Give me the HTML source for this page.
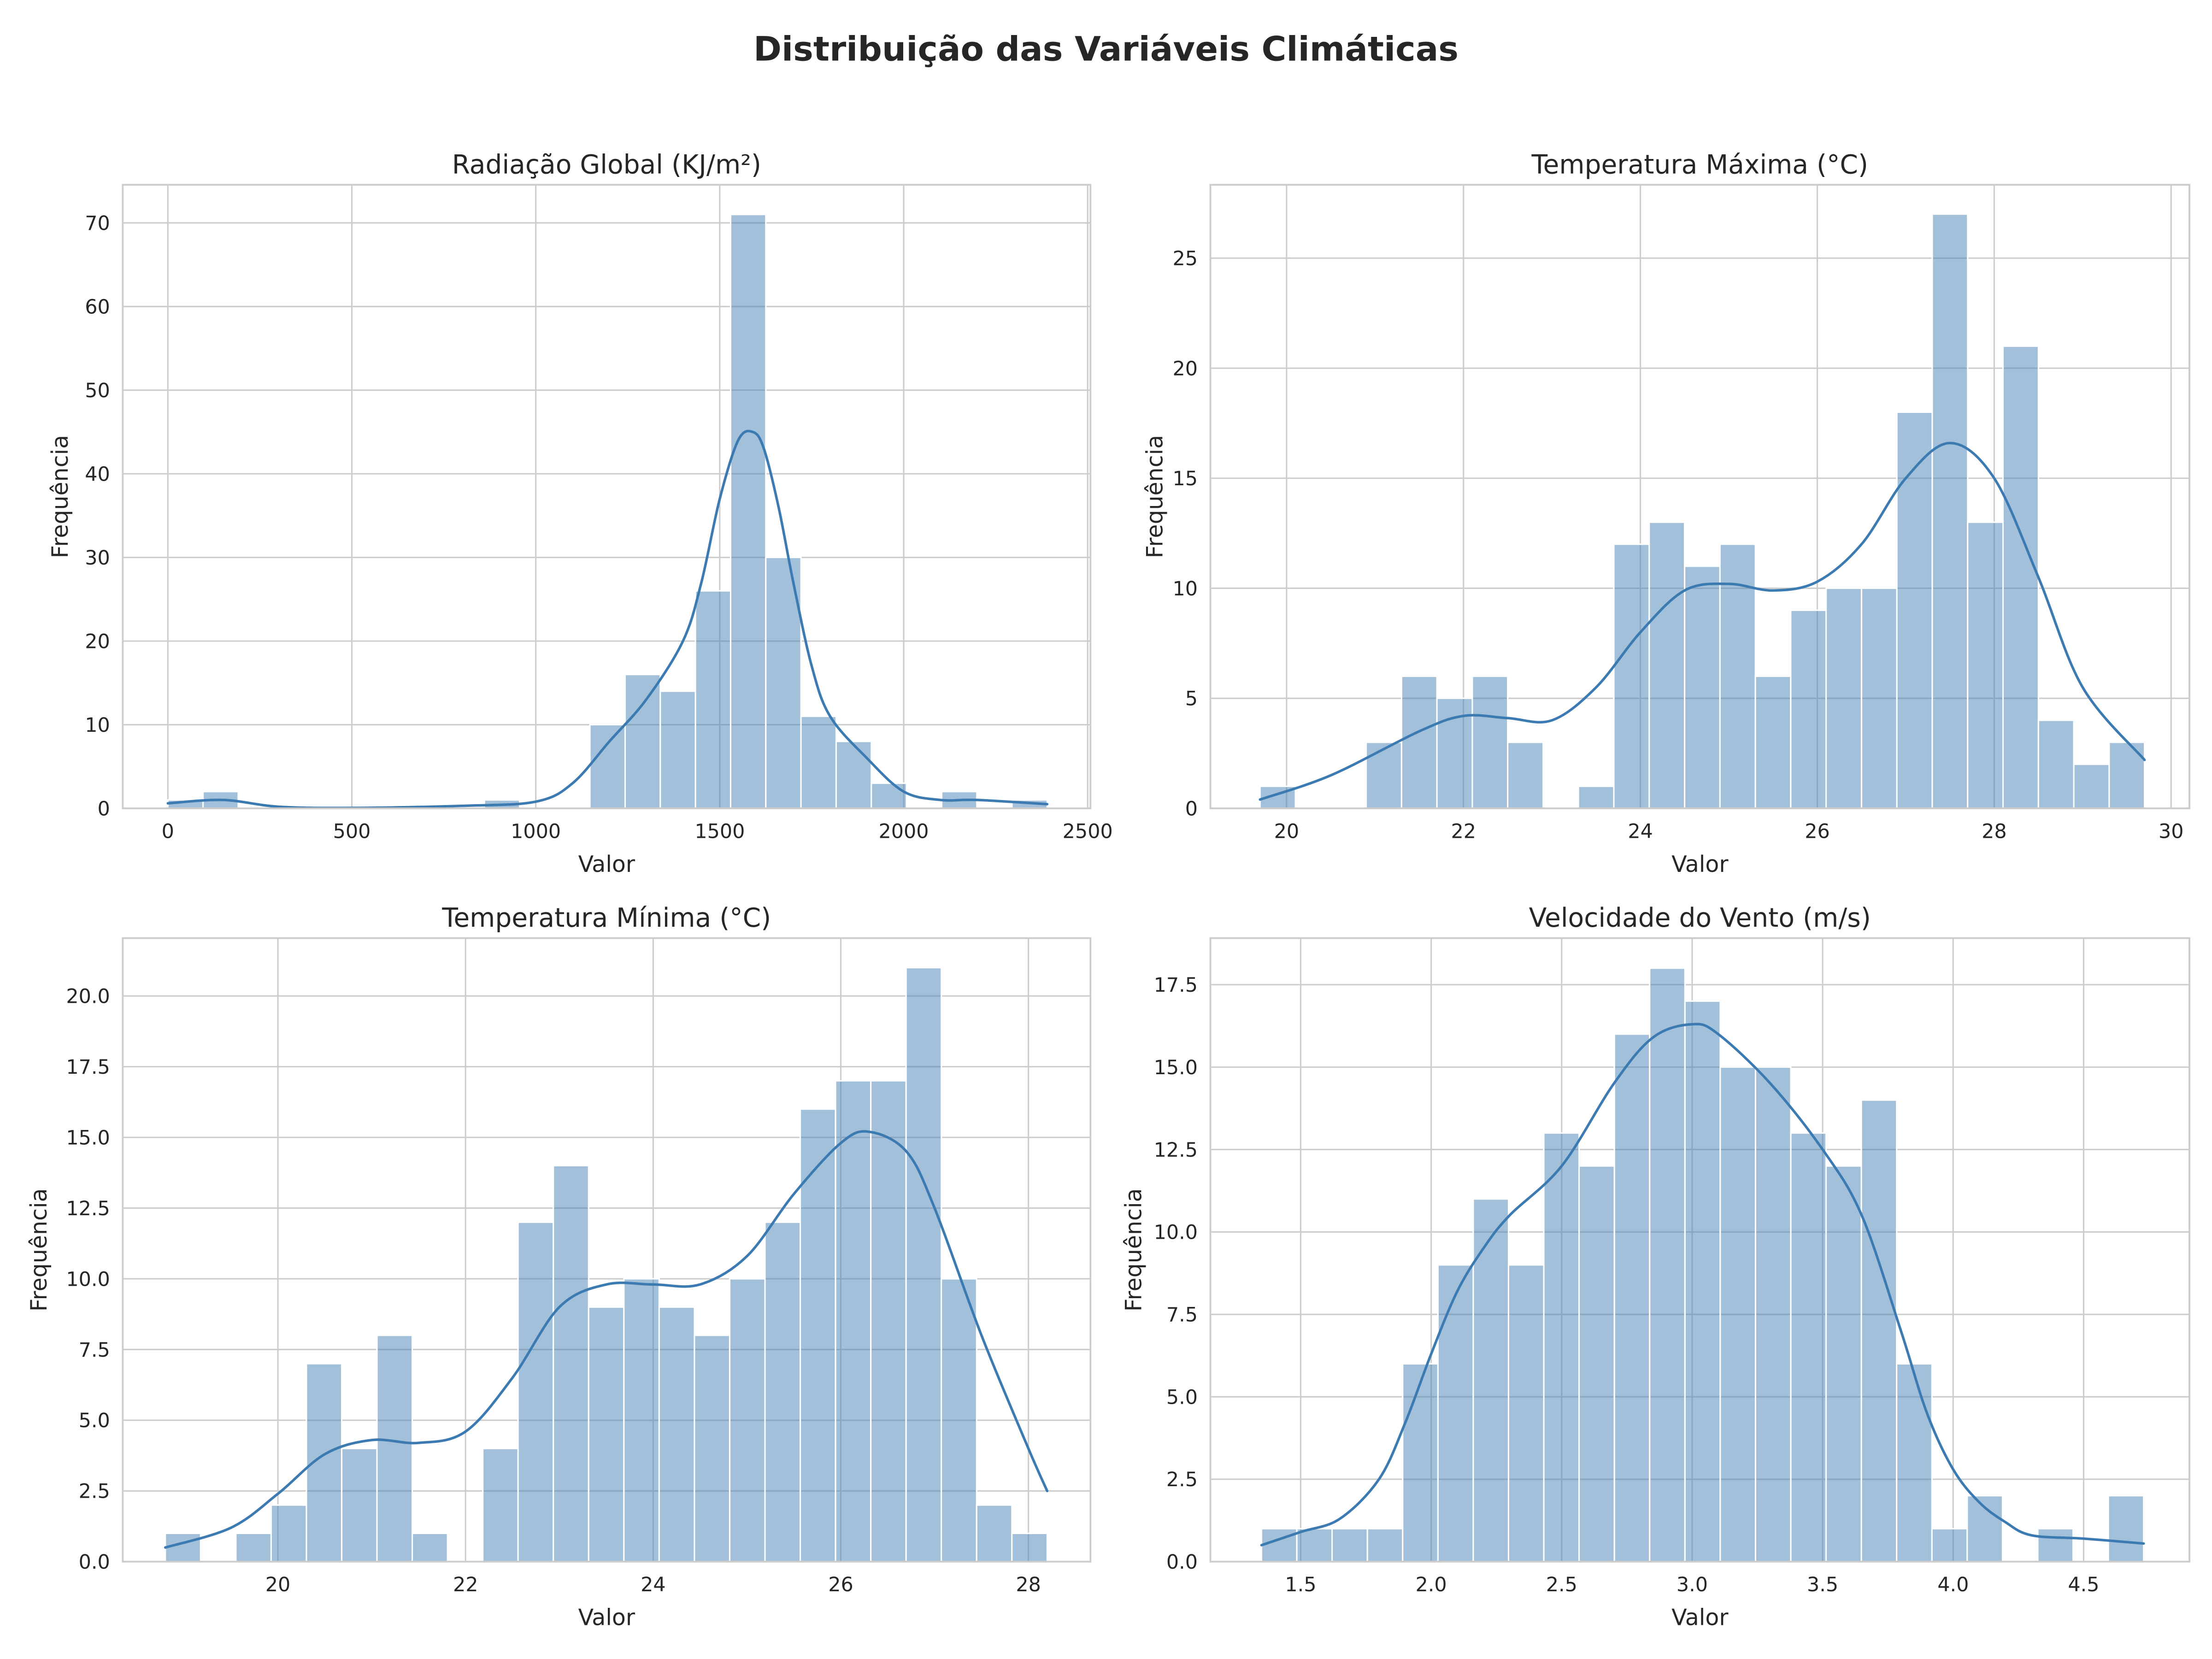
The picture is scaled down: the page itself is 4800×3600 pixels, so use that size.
<!DOCTYPE html>
<html><head><meta charset="utf-8"><style>
html,body{margin:0;padding:0;background:#fff;}
svg{display:block;font-family:"DejaVu Sans","Liberation Sans",sans-serif;}
</style></head><body>
<svg id="fig" width="4800" height="3600" viewBox="0 0 1568 1176" xmlns="http://www.w3.org/2000/svg">
<rect x="0" y="0" width="1568" height="1176" fill="#fff"/>
<text x="784" y="43" text-anchor="middle" font-size="24" font-weight="bold" fill="#262626">Distribuição das Variáveis Climáticas</text>
</svg>
<script>
// ---- data ----
const radEdges0 = 0, radEdges1 = 2390;
const radCounts = [1,2,0,0,0,0,0,0,0,1,0,0,10,16,14,26,71,30,11,8,3,0,2,0,1];
const radKdeX = [0,150,300,500,800,1000,1100,1200,1300,1400,1450,1500,1550,1590,1620,1660,1700,1750,1800,1900,2000,2100,2200,2390];
const radKdeY = [0.6,1,0.2,0.05,0.3,0.8,3,8,13,20,27,37,44,45,43,36,27,17,11,6,2,1,1,0.5];
const radXTicks = [0,500,1000,1500,2000,2500];
const radYTicks = [0,10,20,30,40,50,60,70];

const tmaxRange = [19.7,29.7];
const tmaxCounts = [1,0,0,3,6,5,6,3,0,1,12,13,11,12,6,9,10,10,18,27,13,21,4,2,3];
const tmaxKdeX = [19.7,20.5,21.5,22,22.5,23,23.5,24,24.5,25,25.5,26,26.5,27,27.5,28,28.5,29,29.7];
const tmaxKdeY = [0.4,1.5,3.5,4.2,4.1,4,5.5,8,9.9,10.2,9.9,10.3,12,15,16.6,15,10.5,5.5,2.2];
const tmaxXTicks = [20,22,24,26,28,30];
const tmaxYTicks = [0,5,10,15,20,25];

const tminRange = [18.8,28.2];
const tminCounts = [1,0,1,2,7,4,8,1,0,4,12,14,9,10,9,8,10,12,16,17,17,21,10,2,1];
const tminKdeX = [18.8,19.5,20,20.5,21,21.5,22,22.5,23,23.5,24,24.5,25,25.5,26,26.3,26.7,27,27.5,28,28.2];
const tminKdeY = [0.5,1.2,2.4,3.8,4.3,4.2,4.6,6.5,9,9.8,9.8,9.8,10.8,13,14.8,15.2,14.5,12.5,8,4,2.5];
const tminXTicks = [20,22,24,26,28];
const tminYTicks = [0,2.5,5,7.5,10,12.5,15,17.5,20];

const ventoRange = [1.35,4.73];
const ventoCounts = [1,1,1,1,6,9,11,9,13,12,16,18,17,15,15,13,12,14,6,1,2,0,1,0,2];
const ventoKdeX = [1.35,1.5,1.65,1.8,1.9,2.0,2.1,2.2,2.3,2.5,2.7,2.85,3.0,3.1,3.3,3.5,3.65,3.8,3.9,4.0,4.1,4.2,4.3,4.5,4.73];
const ventoKdeY = [0.5,0.9,1.3,2.5,4.2,6.3,8.2,9.5,10.5,12,14.5,15.9,16.3,16,14.5,12.5,10.5,7,4.5,2.8,1.8,1.2,0.8,0.7,0.55];
const ventoXTicks = [1.5,2,2.5,3,3.5,4,4.5];
const ventoYTicks = [0,2.5,5,7.5,10,12.5,15,17.5];

const NS = "http://www.w3.org/2000/svg";
const fig = document.getElementById('fig');
function mk(tag, attrs, parent){const e=document.createElementNS(NS,tag);for(const k in attrs)e.setAttribute(k,attrs[k]);(parent||fig).appendChild(e);return e;}

function smoothPath(pts){
  let d = 'M' + pts[0][0].toFixed(2) + ',' + pts[0][1].toFixed(2);
  for(let i=0;i<pts.length-1;i++){
    const p0 = pts[i-1]||pts[i], p1 = pts[i], p2 = pts[i+1], p3 = pts[i+2]||p2;
    const c1x = p1[0] + (p2[0]-p0[0])/6, c1y = p1[1] + (p2[1]-p0[1])/6;
    const c2x = p2[0] - (p3[0]-p1[0])/6, c2y = p2[1] - (p3[1]-p1[1])/6;
    d += 'C'+c1x.toFixed(2)+','+c1y.toFixed(2)+' '+c2x.toFixed(2)+','+c2y.toFixed(2)+' '+p2[0].toFixed(2)+','+p2[1].toFixed(2);
  }
  return d;
}

function panel(cfg){
  const g = mk('g',{});
  
  
  const {L,R,T,B} = cfg;
  const sx = v => cfg.px0 + (v - cfg.vx0) * (cfg.px1 - cfg.px0) / (cfg.vx1 - cfg.vx0);
  const sy = v => B - v * (B - cfg.pyTop) / cfg.vyTop;
  cfg.xTicks.forEach(t=>{
    const l = mk('line',{x1:sx(t),x2:sx(t),y1:T,y2:B,stroke:'#cccccc','stroke-width':1},g);
    
    
    const tx = mk('text',{x:sx(t),y:B+21,'text-anchor':'middle','font-size':14,fill:'#262626'},g);
    tx.textContent = cfg.xfmt(t);
    
    
  });
  cfg.yTicks.forEach(t=>{
    const l = mk('line',{x1:L,x2:R,y1:sy(t),y2:sy(t),stroke:'#cccccc','stroke-width':1},g);
    
    
    const tx = mk('text',{x:L-9,y:sy(t)+5,'text-anchor':'end','font-size':14,fill:'#262626'},g);
    tx.textContent = cfg.yfmt(t);
    
    
  });
  const n = cfg.counts.length, w = (cfg.r1 - cfg.r0)/n;
  cfg.counts.forEach((c,i)=>{
    if(c<=0) return;
    const x0 = sx(cfg.r0 + i*w), x1 = sx(cfg.r0 + (i+1)*w);
    const b = mk('rect',{x:x0,y:sy(c),width:x1-x0,height:B-sy(c),fill:'rgba(70,130,180,0.5)',stroke:'#fff','stroke-width':1},g);
    
    
  });
  const pts = cfg.kx.map((x,i)=>[sx(x), sy(cfg.ky[i])]);
  const p = mk('path',{d:smoothPath(pts),fill:'none',stroke:'#3c7ab2','stroke-width':1.8,'stroke-linejoin':'round','stroke-linecap':'round'},g);
  
  
  const s = mk('rect',{x:L,y:T,width:R-L,height:B-T,fill:'none',stroke:'#cccccc','stroke-width':1.25},g);
  
  
  const ti = mk('text',{x:(L+R)/2,y:T-8,'text-anchor':'middle','font-size':18.5,fill:'#262626'},g);
  ti.textContent = cfg.title;
  
  
  const xl = mk('text',{x:(L+R)/2,y:B+45,'text-anchor':'middle','font-size':16,fill:'#262626'},g);
  xl.textContent = 'Valor';
  
  
  const yl = mk('text',{x:0,y:0,'text-anchor':'middle','font-size':16,fill:'#262626',transform:`translate(${cfg.ylx},${(T+B)/2}) rotate(-90)`},g);
  yl.textContent = 'Frequência';
  
  
}
const i0 = v=>String(v), f1 = v=>v.toFixed(1);
panel({name:'radiacao-global-panel',title:'Radiação Global (KJ/m²)',L:87,R:773,T:131,B:573,px0:119,vx0:0,px1:771,vx1:2500,pyTop:158,vyTop:70,r0:radEdges0,r1:radEdges1,counts:radCounts,kx:radKdeX,ky:radKdeY,xTicks:radXTicks,yTicks:radYTicks,xfmt:i0,yfmt:i0,ylx:48});
panel({name:'temperatura-maxima-panel',title:'Temperatura Máxima (°C)',L:858,R:1552,T:131,B:573,px0:912,vx0:20,px1:1539,vx1:30,pyTop:183,vyTop:25,r0:tmaxRange[0],r1:tmaxRange[1],counts:tmaxCounts,kx:tmaxKdeX,ky:tmaxKdeY,xTicks:tmaxXTicks,yTicks:tmaxYTicks,xfmt:i0,yfmt:i0,ylx:824});
panel({name:'temperatura-minima-panel',title:'Temperatura Mínima (°C)',L:87,R:773,T:665,B:1107,px0:197,vx0:20,px1:729,vx1:28,pyTop:706,vyTop:20,r0:tminRange[0],r1:tminRange[1],counts:tminCounts,kx:tminKdeX,ky:tminKdeY,xTicks:tminXTicks,yTicks:tminYTicks,xfmt:i0,yfmt:f1,ylx:33});
panel({name:'velocidade-vento-panel',title:'Velocidade do Vento (m/s)',L:858,R:1552,T:665,B:1107,px0:922,vx0:1.5,px1:1477,vx1:4.5,pyTop:698,vyTop:17.5,r0:ventoRange[0],r1:ventoRange[1],counts:ventoCounts,kx:ventoKdeX,ky:ventoKdeY,xTicks:ventoXTicks,yTicks:ventoYTicks,xfmt:f1,yfmt:f1,ylx:809});
</script>
</body></html>
